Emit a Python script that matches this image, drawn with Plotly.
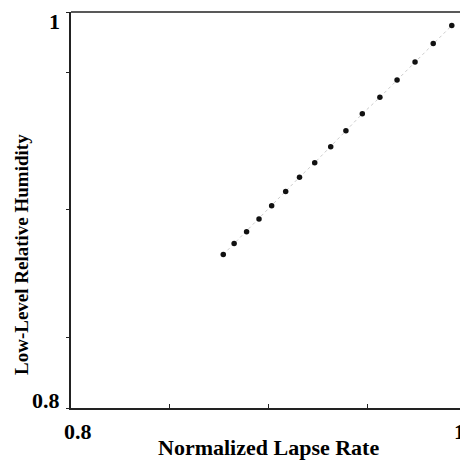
import plotly.graph_objects as go

lapse_rate = [0.8771, 0.8826, 0.8889, 0.8952, 0.9016, 0.9087, 0.9157, 0.9234,
              0.9315, 0.9392, 0.9475, 0.9564, 0.9651, 0.9742, 0.9834, 0.9928]
humidity = [0.8775, 0.8831, 0.8890, 0.8954, 0.9022, 0.9093, 0.9166, 0.9239,
            0.9320, 0.9400, 0.9486, 0.9569, 0.9656, 0.9748, 0.9841, 0.9932]

x_ticks = [0.8, 0.85, 0.9, 0.95, 1.0]
x_ticktext = ["0.8", "", "", "", "1"]
y_ticks = [0.8, 0.8354, 0.9003, 0.9696, 1.0]
y_ticktext = ["0.8", "", "", "", "1"]

FONT = "Liberation Serif"

fig = go.Figure()
fig.add_trace(go.Scatter(
    x=lapse_rate, y=humidity, mode="lines+markers",
    line=dict(color="#cccccc", width=1, dash="dot"),
    marker=dict(symbol="circle", size=5.5, color="#111111"),
    showlegend=False,
))

label_font = dict(size=22, family=FONT, color="black")
tick_annots = []
# y tick labels (sit slightly inside the axis ends)
for v, t in zip(y_ticks, y_ticktext):
    if not t:
        continue
    tick_annots.append(dict(
        text="<b>%s</b>" % t, xref="paper", yref="y", x=0, y=v,
        xanchor="right", yanchor="middle", xshift=-9,
        yshift=8 if v == y_ticks[0] else -9,
        showarrow=False, font=label_font))
# x tick labels
for v, t in zip(x_ticks, x_ticktext):
    if not t:
        continue
    first = v == x_ticks[0]
    tick_annots.append(dict(
        text="<b>%s</b>" % t, xref="x", yref="paper", x=v, y=0,
        xanchor="center" if first else "right", yanchor="middle",
        xshift=7 if first else 1, yshift=-23,
        showarrow=False, font=label_font))

# page body has an 8px margin, so the figure is sized to fit the window
fig.update_layout(
    width=460, height=452,
    margin=dict(l=63, r=2, t=4, b=52),
    paper_bgcolor="white", plot_bgcolor="white",
    font=dict(family=FONT, color="black"),
    xaxis=dict(range=[0.8, 1.0], tickvals=x_ticks, showticklabels=False,
               automargin=False,
               showgrid=False, zeroline=False, showline=True, linecolor="#222",
               linewidth=1.5, mirror=False, ticks="inside", ticklen=4,
               tickcolor="#222"),
    yaxis=dict(range=[0.8, 1.0], tickvals=y_ticks, showticklabels=False,
               automargin=False,
               showgrid=False, zeroline=False, showline=True, linecolor="#222",
               linewidth=1.5, ticks="outside", ticklen=3,
               tickcolor="#222"),
    annotations=tick_annots + [
        dict(text="<b>Normalized Lapse Rate</b>", xref="paper", yref="paper",
             x=0.5, y=0, yshift=-39, yanchor="middle", showarrow=False,
             font=dict(size=22, family=FONT)),
        dict(text="<b>Low-Level Relative Humidity</b>", xref="paper", yref="paper",
             x=0, xshift=-50, y=0.5, yshift=-45, textangle=-90, showarrow=False,
             xanchor="center", font=dict(size=19, family=FONT)),
    ],
    shapes=[
        dict(type="line", xref="paper", yref="paper", x0=0, x1=1, y0=1, y1=1,
             line=dict(color="#222", width=1.5)),
        dict(type="line", xref="paper", yref="paper", x0=1, x1=1, y0=0, y1=1,
             line=dict(color="#bbbbbb", width=1, dash="dot")),
    ],
)

fig.write_html("out.html")
